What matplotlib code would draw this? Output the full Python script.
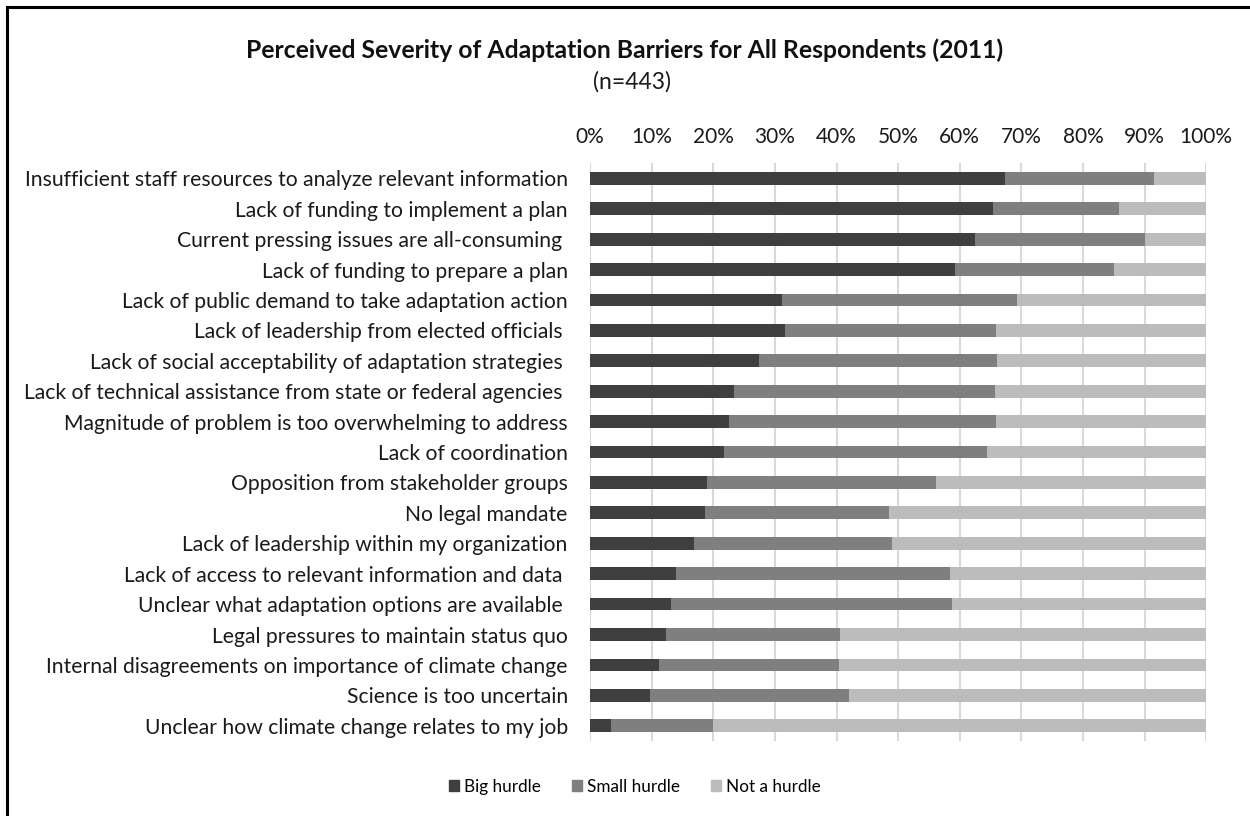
import numpy as np
import matplotlib.pyplot as plt
from matplotlib.lines import Line2D

plt.rcParams['font.family'] = ['Lato', 'DejaVu Sans']

barriers = [
    "Insufficient staff resources to analyze relevant information",
    "Lack of funding to implement a plan",
    "Current pressing issues are all-consuming ",
    "Lack of funding to prepare a plan",
    "Lack of public demand to take adaptation action",
    "Lack of leadership from elected officials ",
    "Lack of social acceptability of adaptation strategies ",
    "Lack of technical assistance from state or federal agencies ",
    "Magnitude of problem is too overwhelming to address",
    "Lack of coordination",
    "Opposition from stakeholder groups",
    "No legal mandate",
    "Lack of leadership within my organization",
    "Lack of access to relevant information and data ",
    "Unclear what adaptation options are available ",
    "Legal pressures to maintain status quo",
    "Internal disagreements on importance of climate change",
    "Science is too uncertain",
    "Unclear how climate change relates to my job",
]

# percentages
big_hurdle = [67.4, 65.4, 62.5, 59.2, 31.1, 31.6, 27.4, 23.4, 22.6, 21.7,
              19.0, 18.6, 16.9, 13.9, 13.2, 12.4, 11.2, 9.7, 3.4]
small_hurdle = [24.1, 20.5, 27.5, 25.9, 38.2, 34.3, 38.7, 42.4, 43.3, 42.8,
                37.2, 30.0, 32.1, 44.5, 45.6, 28.2, 29.2, 32.3, 16.5]
not_hurdle = [100 - b - s for b, s in zip(big_hurdle, small_hurdle)]

series = ["Big hurdle", "Small hurdle", "Not a hurdle"]
colors = ["#3f3f3f", "#7f7f7f", "#bcbcbc"]

fig = plt.figure(figsize=(12.5, 8.16), dpi=100)
ax = fig.add_axes([0.472, 0.092, 0.493, 0.708])

y = np.arange(len(barriers))
left = np.zeros(len(barriers))
for name, vals, col in zip(series, [big_hurdle, small_hurdle, not_hurdle], colors):
    ax.barh(y, vals, left=left, height=0.42, color=col, label=name, zorder=3)
    left += np.array(vals)

ax.set_xlim(0, 100)
ax.set_ylim(len(barriers) - 0.5, -0.5)
ax.set_yticks(y)
ax.set_yticklabels(barriers, fontsize=15.2)
ax.set_xticks(np.arange(0, 101, 10))
ax.set_xticklabels([f"{v}%" for v in range(0, 101, 10)], fontsize=15)
ax.xaxis.tick_top()
ax.tick_params(axis='both', length=0, colors='#1a1a1a')
ax.tick_params(axis='y', pad=16)
ax.tick_params(axis='x', pad=12)
ax.grid(axis='x', color='#d9d9d9', linewidth=1.5, zorder=0)
for s in ax.spines.values():
    s.set_visible(False)

fig.text(0.5, 0.938, "Perceived Severity of Adaptation Barriers for All Respondents (2011)",
         ha='center', va='center', fontsize=17.8, fontweight='bold', color='#111111')
fig.text(0.506, 0.9, "(n=443)", ha='center', va='center', fontsize=16.5, color='#1a1a1a')

handles = [plt.Rectangle((0, 0), 1, 1, color=c) for c in colors]
fig.legend(handles, series, loc='center', bbox_to_anchor=(0.508, 0.036), ncol=3,
           frameon=False, fontsize=12.3, handlelength=0.6, handleheight=0.6,
           handletextpad=0.3, columnspacing=1.8)

# frame on the left and top edges
fig.add_artist(Line2D([0.0056, 0.0056], [0.001, 0.991], color='black', linewidth=2.2,
                      transform=fig.transFigure))
fig.add_artist(Line2D([0.0056, 1.0], [0.991, 0.991], color='black', linewidth=2.2,
                      transform=fig.transFigure))

fig.savefig("out.png", dpi=100, facecolor='white')
